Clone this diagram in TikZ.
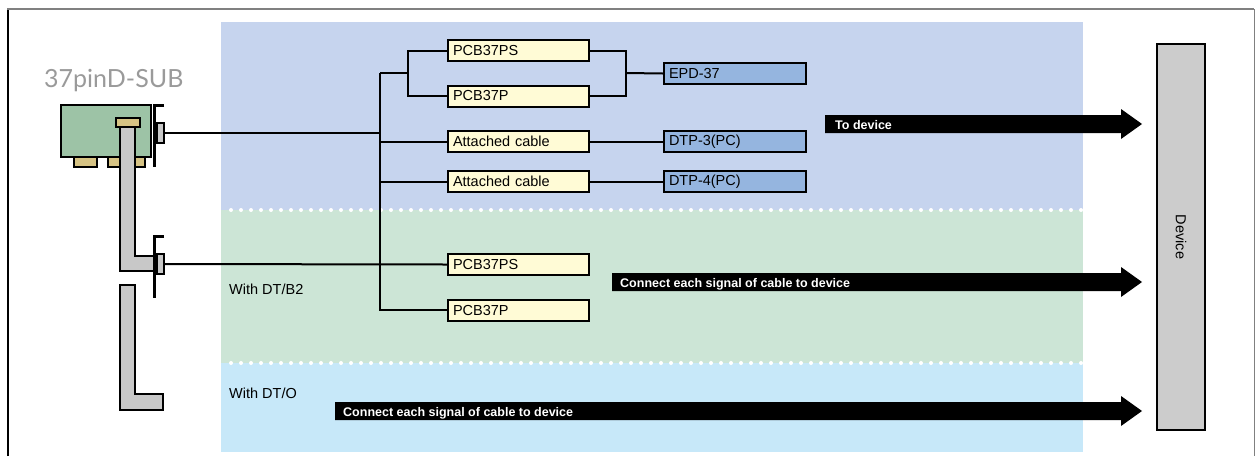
\documentclass[tikz,border=0pt]{standalone}
\usepackage{fontspec}
\setmainfont{Liberation Sans}
\newfontfamily\titlefont{Lato}
\usetikzlibrary{calc}

\definecolor{bandblue}{RGB}{198,212,238}
\definecolor{bandgreen}{RGB}{204,229,214}
\definecolor{bandsky}{RGB}{199,232,249}
\definecolor{cablefill}{RGB}{255,251,214}
\definecolor{prodfill}{RGB}{149,181,223}
\definecolor{cardgreen}{RGB}{157,195,166}
\definecolor{pingold}{RGB}{214,195,132}
\definecolor{metal}{RGB}{200,200,200}
\definecolor{devgray}{RGB}{204,204,204}
\definecolor{titlegray}{RGB}{154,154,154}
\definecolor{framegray}{RGB}{128,128,128}

\tikzset{
  conn/.style={line width=2pt},
  partbox/.style={draw, line width=2pt, minimum width=141pt, minimum height=21pt,
    text width=131pt, inner xsep=5pt, inner ysep=0pt, align=left,
    font=\fontsize{14.5}{16}\selectfont},
  cablebox/.style={partbox, fill=cablefill},
  prodbox/.style={partbox, fill=prodfill, minimum width=142pt, text width=132pt},
  arrowtext/.style={text=white, font=\bfseries\fontsize{12.5}{14}\selectfont,
    inner sep=0pt, anchor=base west},
  bandtext/.style={font=\fontsize{14.5}{16}\selectfont, inner sep=0pt, anchor=base west},
  plugbox/.style={draw, line width=1.5pt, fill=metal, minimum width=7pt,
    minimum height=20pt, inner sep=0pt},
  metalpart/.style={draw, line width=2pt, fill=metal},
  bracket/.style={line width=3pt},
  dots/.style={white, line width=4pt, line cap=round, dash pattern=on 0pt off 10pt},
}

\begin{document}
\begin{tikzpicture}[x=1pt, y=-1pt]
\useasboundingbox (0,0) rectangle (1255,456);

% outer frame
\draw[black, line width=1.5pt] (8,456) -- (8,9);
\draw[framegray, line width=2pt] (7.25,9) -- (1254,9);
\draw[framegray, line width=1pt] (1254,9) -- (1254,456);

% coloured bands
\fill[bandblue]  (221,22)  rectangle (1083,210);
\fill[bandgreen] (221,210) rectangle (1083,363);
\fill[bandsky]   (221,363) rectangle (1083,452);
\draw[dots] (231,210) -- (1083,210);
\draw[dots] (231,363) -- (1083,363);

% board title
\node[font=\titlefont\fontsize{25}{25}\selectfont, text=titlegray,
      anchor=base west, inner sep=0pt] (title) at (44,87) {37pinD-SUB};

% interface board
\draw[line width=2pt, fill=pingold] (74,157) rectangle (97,167);
\draw[line width=2pt, fill=pingold] (108,157) rectangle (145,167);
\draw[line width=2pt, fill=cardgreen] (61,105) rectangle (151,157);

% first flat cable and its bracket
\draw[metalpart] (120,127) -- (135,127) -- (135,256) -- (157,256) -- (157,271) -- (120,271) -- cycle;
\draw[line width=2pt, fill=pingold] (116,118) rectangle (140,127);
\draw[bracket] (164,105.5) -- (154.5,105.5) -- (154.5,167);
\node[plugbox] (plug1) at (160.5,133) {};

% second flat cable and its bracket
\draw[bracket] (164,236) -- (154.5,236) -- (154.5,298);
\node[plugbox] (plug2) at (160.5,264) {};
\draw[metalpart] (120,285) -- (135,285) -- (135,394) -- (163,394) -- (163,410) -- (120,410) -- cycle;

% cables and terminal products
\node[cablebox] (ps1) at (518.5,50.5)  {PCB37PS};
\node[cablebox] (p1)  at (518.5,96)    {PCB37P};
\node[cablebox] (ac1) at (518.5,141.5) {Attached cable};
\node[cablebox] (ac2) at (518.5,181.5) {Attached cable};
\node[prodbox] (epd)  at (735,73.5)    {EPD-37};
\node[prodbox] (dtp3) at (735,141.5)   {DTP-3(PC)};
\node[prodbox] (dtp4) at (735,181.5)   {DTP-4(PC)};
\node[cablebox] (ps2) at (518.5,264.5) {PCB37PS};
\node[cablebox] (p2)  at (518.5,310)   {PCB37P};

% wiring
\coordinate (bustop) at (380,73);
\coordinate (split)  at (408,73);
\coordinate (merge)  at (626,73);
\draw[conn] (plug1.east) -- (plug1.east -| bustop);
\draw[conn] (bustop) |- (p2.west);
\draw[conn] (bustop) -- (split);
\draw[conn] (ps1.west) -| (split) |- (p1.west);
\draw[conn] (ps1.east) -| (merge) |- (p1.east);
\draw[conn] (merge) -- (epd.west);
\draw[conn] (ac1.west -| bustop) -- (ac1.west);
\draw[conn] (ac2.west -| bustop) -- (ac2.west);
\draw[conn] (ac1.east) -- (dtp3.west);
\draw[conn] (ac2.east) -- (dtp4.west);
\draw[conn] (plug2.east) -- (ps2.west);

% device
\node[draw, line width=2pt, fill=devgray, minimum width=48pt, minimum height=386pt,
      inner sep=0pt, font=\fontsize{14.5}{16}\selectfont] (dev) at (1181,237)
      {\rotatebox{-90}{Device}};

% block arrows towards the device
\fill (825,115) -- (1121,115) -- (1121,109) -- (1142,124) -- (1121,139) -- (1121,133) -- (825,133) -- cycle;
\node[arrowtext] (a1) at (835,129) {To device};
\fill (612,273) -- (1121,273) -- (1121,267) -- (1142,282) -- (1121,297) -- (1121,291) -- (612,291) -- cycle;
\node[arrowtext] (a2) at (620,287.5) {Connect each signal of cable to device};
\fill (335,402) -- (1121,402) -- (1121,396) -- (1142,411) -- (1121,426) -- (1121,420) -- (335,420) -- cycle;
\node[arrowtext] (a3) at (343,416) {Connect each signal of cable to device};

% band captions
\node[bandtext] (b2) at (229,294) {With DT/B2};
\node[bandtext] (bo) at (229,398) {With DT/O};

\end{tikzpicture}
\end{document}
